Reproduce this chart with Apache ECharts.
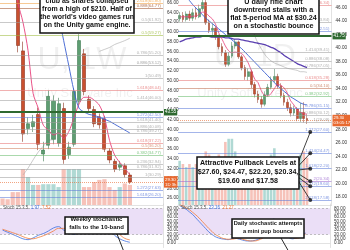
<!DOCTYPE html>
<html><head><meta charset="utf-8">
<script src="https://cdn.jsdelivr.net/npm/echarts@6/dist/echarts.min.js"></script>
<style>html,body{margin:0;padding:0;background:#fff;overflow:hidden}#c{width:350px;height:250px}</style>
</head><body><div id="c"></div>
<script>
// ---------- WEEKLY (left) ----------
const weekCats = ['2022-04-11','2022-04-18','2022-04-25','2022-05-02','2022-05-09','2022-05-16','2022-05-23','2022-05-30','2022-06-06','2022-06-13','2022-06-20','2022-06-27','2022-07-04','2022-07-11','2022-07-18','2022-07-25','2022-08-01','2022-08-08','2022-08-15','2022-08-22','2022-08-29','2022-09-05','2022-09-12','2022-09-19','2022-09-26','2022-10-03','2022-10-10','2022-10-17','2022-10-24','2022-10-31','2022-11-07','2022-11-14'];
// [open, close, low, high]
const weekOHLC = [
 [95,88,86,98],[88,82,80,90],[82,75,73,84],[74,57.2,55.8,76],[56.1,39.1,37.5,58],
 [40.2,41.2,39.0,42.5],[40.6,41.6,39.5,43.0],[43.1,37.0,35.8,44.5],[35.0,35.8,33.5,37.5],[36.8,46.8,36.0,48.0],
 [38.0,45.8,37.0,47.0],[37.2,45.3,36.5,46.5],[44.3,33.9,33.0,45.5],[34.9,36.4,34.0,37.5],[37.0,47.8,36.5,48.5],
 [45.8,58.2,45.0,59.5],[55.5,47.8,47.0,56.5],[46.2,44.3,43.5,47.0],[44.1,41.2,40.5,44.8],[42.6,41.0,40.2,43.3],
 [42.2,36.0,35.4,42.8],[35.6,33.8,33.1,36.2],[33.5,31.9,31.3,34.0],[32.3,32.9,31.6,33.6],[32.6,30.8,30.2,33.1],
 [30.7,29.3,28.9,31.2],null,null,null,null,null,null];
const weekVol = [9,8,18,18,50,39,28,28,29,29,29,25,50,50,50,50,25,25,32,35,36,25,21,25,30,28,null,null,null,null,null,null];
const weekMAfast = [null,78,72,66,62,56.2,47.4,44.4,40.9,39.9,38.9,39.3,38.2,39.6,42.3,45.2,46.6,46.6,46.0,45.0,42.5,37.8,34.8,33.3,32.1,30.7,null,null,null,null,null,null];
const weekMAslow = [null,null,null,null,null,92,86,80,75,71.5,67.4,63.3,58.2,53.1,48.0,44.4,43.6,43.1,42.9,42.5,42.1,41.7,41.1,40.5,39.9,39.3,null,null,null,null,null,null];
const weekBandUp = [null,null,null,null,null,null,null,null,null,null,null,null,null,null,null,null,null,null,null,56.0,56.4,56.8,57.4,57.8,58.2,58.7,null,null,null,null,null,null];
const weekBandLow = [null,null,null,null,30.7,32.1,33.8,35.4,36.6,37.8,37.9,null,null,null,null,null,null,null,null,null,null,null,null,null,null,null,null,null,null,null,null,null];
const weekStochK = [30,25,20,15,10,8,12,18,22,28,35,38,30,25,20,28,38,46,54,56,47,32,18,10,5,1.97,null,null,null,null,null,null];
const weekStochD = [32,28,24,20,15,11,10,13,17,22,28,34,34,30,25,24,28,37,46,52,52,45,32,20,11,7.52,null,null,null,null,null,null];
const weekTicks = [26,28,30,32,34,36,38,40,42,44,46,48,50,52,54,56,58,60,62,64,66];
const weekFibVals = [65.80,64.77,61.92,59.27,55.20,53.12,50.49,48.04,46.00,42.50,41.40,40.08,39.27,37.22,36.20,34.77,32.94,31.92,30.29,27.63,26.20];
const weekFibRatios = ['2.618','0.888','0.5','0.5','0.786','0.886','1','1.618','1.414','1.272','1.618','0.886','0.786','0.618','0.5','0.382','0.236','0.786','1','1.272','1.618'];
const weekFibColors = ['#f0a040','#a0522d','#9e9e9e','#9cba3c','#9e9e9e','#8d8d8d','#9e9e9e','#e57373','#9e9e9e','#5c7bd9','#9e9e9e','#9e9e9e','#9e9e9e','#e57373','#d08060','#66bb6a','#9e9e9e','#9e9e9e','#9e9e9e','#5c7bd9','#5c7bd9'];
const weekTagVals = [57.30,43.55,41.90,37.43,33.35,32.33,27.63,26.20];
const weekTagColors = ['#3d6fe0','#2e6930','#3d6fe0','#3d6fe0','#3d6fe0','#3d6fe0','#3d6fe0','#3d6fe0'];

// ---------- DAILY (right) ----------
const dayCats = ['09-12','09-13','09-14','09-15','09-16','09-19','09-20','09-21','09-22','09-23','09-26','09-27','09-28','09-29','09-30','10-03','10-04','10-05','10-06','10-07','10-10','10-11','10-12','10-13','10-14','10-17','10-18','10-19','10-20','10-21','10-24','10-25','10-26','10-27','10-28','10-31','11-01','11-02','11-03','11-04','11-07','11-08','11-09','11-10','11-11','11-14','11-15'];
const dayOHLC = [
 [44.3,44.8,43.9,45.3],[44.8,44.2,43.8,45.3],[44.2,45.0,43.9,45.4],[45.0,44.4,44.0,45.5],[44.4,45.2,44.0,45.8],
 [45.2,44.6,44.2,45.9],[44.6,45.8,44.4,46.4],[45.8,46.7,45.5,47.3],[46.7,43.7,43.4,47.3],[43.7,42.6,42.2,44.2],
 [42.6,42.9,41.9,43.6],[42.9,41.6,41.2,43.2],[41.6,40.2,39.8,42.0],[40.2,39.3,38.8,40.7],[39.3,37.6,37.2,39.7],
 [37.6,38.8,37.3,39.4],[38.8,40.3,38.5,40.9],[40.3,40.9,39.9,41.3],[40.9,38.7,38.4,41.1],[38.7,37.1,36.7,39.0],
 [37.1,35.8,35.3,37.5],[35.8,36.5,35.2,37.0],[36.5,34.6,34.1,36.8],[34.6,33.2,32.7,35.0],[33.2,32.4,31.9,33.7],
 [32.4,31.7,31.2,32.9],[31.7,33.1,31.4,33.6],[33.1,34.2,32.8,34.7],[34.2,35.3,33.9,35.8],[35.3,35.8,34.9,36.9],
 [35.8,34.4,34.0,36.2],[34.4,33.0,32.6,34.8],[33.0,32.0,31.5,33.4],[32.0,31.2,30.7,32.5],[31.2,30.4,29.9,31.8],
 [30.4,31.0,30.0,31.5],[31.0,29.6,29.2,31.3],[29.6,30.5,29.1,31.9],[30.5,29.6,29.0,32.0],[29.6,29.3,28.8,30.2],
 null,null,null,null,null,null,null];
const dayVol = [14,13,12,13,12,13,14,15,17,16,14,15,16,15,20,21,21,17,15,14,15,13,14,15,14,13,14,15,16,18,15,14,13,14,15,13,14,16,17,15,null,null,null,null,null,null,null];
const dayMA5 = [44.6,44.6,44.6,44.6,44.7,44.7,45.0,45.3,45.2,44.7,44.3,43.5,42.2,41.3,40.3,39.6,39.3,39.4,39.3,39.2,38.6,37.8,36.6,35.4,34.9,33.7,33.0,32.9,33.3,34.0,34.6,34.5,34.1,33.3,32.2,31.6,30.8,30.5,30.3,30.24,null,null,null,null,null,null,null];
const dayMA15 = [48.5,48.0,47.5,47.0,46.4,45.9,45.4,44.9,44.4,44.0,43.6,43.2,42.8,42.4,42.0,41.6,41.2,40.8,40.3,39.9,39.4,38.9,38.4,37.9,37.4,36.9,36.4,35.9,35.4,34.9,34.4,34.0,33.6,33.2,32.8,32.5,32.2,31.9,31.7,31.6,null,null,null,null,null,null,null];
const dayMA50 = [40.9,41.1,41.3,41.4,41.5,41.6,41.6,41.7,41.7,41.7,41.6,41.6,41.6,41.6,41.5,41.5,41.4,41.3,41.3,41.2,41.1,41.0,40.9,40.8,40.7,40.6,40.5,40.3,40.1,39.9,39.6,39.3,38.9,38.6,38.3,38.0,37.7,37.5,37.3,37.1,null,null,null,null,null,null,null];
const dayBandUp = [null,null,null,null,null,null,null,null,null,null,null,null,null,null,null,null,null,null,null,null,47.8,45.6,43.4,41.8,40.7,39.9,39.1,38.5,38.1,37.8,37.6,37.4,37.2,37.0,36.9,36.8,36.7,36.5,36.5,36.4,null,null,null,null,null,null,null];
const dayStochK = [86,82,78,72,66,58,50,42,34,26,20,15,12,10,9,8,10,12,10,8,6,5,5,6,8,12,20,32,45,55,52,40,28,18,12,10,12,15,20,23.16,null,null,null,null,null,null,null];
const dayStochD = [88,85,81,77,71,65,58,50,42,34,27,20,16,12,10,9,9,10,11,10,8,6,5,5,6,9,13,21,32,44,51,49,40,29,19,13,11,12,16,21.27,null,null,null,null,null,null,null];
const dayTicks = [18,20,22,24,26,28,30,32,34,36,38,40,42,44,46];
const dayFibVals = [46.34,43.84,42.51,39.41,38.08,37.05,35.28,34.10,32.92,31.15,30.12,29.09];
const dayFibRatios = ['0.618','0.5','1','1.414','0.886','0.786','0.618','0.5','0.382','0.786','0.886','1'];
const dayFibColors = ['#e57373','#9e9e9e','#5c7bd9','#9e9e9e','#9e9e9e','#9e9e9e','#e57373','#c07050','#66bb6a','#5c7bd9','#9e9e9e','#9e9e9e'];
const pullLevels = [27.60,24.47,22.20,20.34,19.60,17.58];
const pullRatios = ['1.272','1.414','1.618','2','2.272','2.618'];
const pullColors = ['#5c7bd9','#5c7bd9','#5c7bd9','#9c6ad0','#5c7bd9','#5c7bd9'];
const dayTagVals = [41.75,41.20,36.94,32.63,31.89];
const dayTagColors = ['#2e6930','#3d6fe0','#3d6fe0','#3d6fe0','#3d6fe0'];

// ---------- build ----------
const UP='#5e9e72', DOWN='#c9502f', VUP='rgba(80,170,160,0.45)', VDN='rgba(235,120,100,0.45)';
const FONT='"Liberation Sans", Arial, sans-serif';
const lastW = weekOHLC.filter(Boolean).slice(-1)[0][1];
const lastD = dayOHLC.filter(Boolean).slice(-1)[0][1];
const ohlcData = arr => arr.map(d => d ? d : ['-','-','-','-']);

function fibLines(vals, ratios, colors){
  return vals.map((v,i)=>({yAxis:v, lineStyle:{color:colors[i],width:0.7,type:'solid',opacity:0.8},
    label:{show:true,position:'insideEndTop',distance:[2,0.5],formatter:ratios[i]+'('+v.toFixed(2)+')',color:colors[i],fontSize:4.3,fontFamily:FONT}}));
}
function tagLines(vals, colors){
  return vals.map((v,i)=>({yAxis:v, lineStyle:{color:colors[i],width:(colors[i]==='#2e6930'?2:0.6),type:'solid',opacity:(colors[i]==='#2e6930'?1:0)},
    label:{show:true,position:'end',distance:1,formatter:v.toFixed(2),color:'#fff',backgroundColor:colors[i],padding:[1,1,0.5,1],fontSize:4.5,fontFamily:FONT}}));
}
function volData(ohlc, vol){
  return vol.map((v,i)=> v==null?'-':{value:v,itemStyle:{color: ohlc[i] && ohlc[i][1]>=ohlc[i][0]?VUP:VDN}});
}
const priceAxis = (g,min,max,ticks)=>({type:'value',gridIndex:g,position:'right',min,max,
  axisLine:{show:true,lineStyle:{color:'#cfcfcf',width:0.6}},axisTick:{show:false},splitLine:{show:false},
  axisLabel:{customValues:ticks,fontSize:4.6,color:'#333',margin:4,fontFamily:FONT,formatter:v=>Number(v).toFixed(2)}});
const stochAxis = g=>({type:'value',gridIndex:g,position:'right',min:-10,max:90,interval:10,
  axisLine:{show:true,lineStyle:{color:'#cfcfcf',width:0.6}},axisTick:{show:false},splitLine:{show:false},
  axisLabel:{fontSize:4.6,color:'#333',margin:4,fontFamily:FONT,formatter:v=>Number(v).toFixed(2)}});
const volAxis = (g,max)=>({type:'value',gridIndex:g,min:0,max,show:false,splitLine:{show:false}});
const catAxis = (g,data)=>({type:'category',gridIndex:g,data,boundaryGap:true,
  axisLine:{show:true,lineStyle:{color:'#cfcfcf',width:0.6}},axisTick:{show:false},axisLabel:{show:false},splitLine:{show:false}});

const stochBand = {silent:true,itemStyle:{color:'#ebdff7'},data:[[{yAxis:20},{yAxis:80}]]};
const stochLines = {silent:true,symbol:'none',label:{show:false},lineStyle:{color:'#9a9a9a',type:[2,2],width:0.6},data:[{yAxis:80},{yAxis:20}]};
const lineS = (xi,yi,data,color,w,z)=>({type:'line',xAxisIndex:xi,yAxisIndex:yi,data,symbol:'none',smooth:0.3,lineStyle:{color,width:w},clip:true,z:z||3,connectNulls:false});

const option = {
  animation:false,
  textStyle:{fontFamily:FONT},
  grid:[
    {left:0,top:0,width:163,height:205},
    {left:0,top:204,width:163,height:107},
    {left:178,top:0,width:155,height:205},
    {left:178,top:204,width:155,height:107}
  ],
  xAxis:[catAxis(0,weekCats),catAxis(1,weekCats),catAxis(2,dayCats),catAxis(3,dayCats)],
  yAxis:[
    priceAxis(0,24.57,66.41,weekTicks), volAxis(0,285), stochAxis(1),
    priceAxis(2,16.84,47.08,dayTicks), volAxis(2,65), stochAxis(3)
  ],
  series:[
    {type:'bar',xAxisIndex:0,yAxisIndex:1,data:volData(weekOHLC,weekVol),barWidth:4.2,z:1},
    {type:'candlestick',xAxisIndex:0,yAxisIndex:0,data:ohlcData(weekOHLC),barWidth:3.6,clip:true,
      itemStyle:{color:UP,color0:DOWN,borderColor:'#3f7a52',borderColor0:'#8c3420',borderWidth:0.6},
      markLine:{silent:true,symbol:'none',animation:false,data:fibLines(weekFibVals,weekFibRatios,weekFibColors).concat(tagLines(weekTagVals,weekTagColors)).concat([
        {yAxis:lastW,lineStyle:{color:'#e8692f',width:0.6,type:[1,1]},label:{show:true,position:'end',distance:1,formatter:lastW.toFixed(2)+'\n1D 3h',color:'#fff',backgroundColor:'#e8692f',padding:[1,1,0.5,1],fontSize:4.3,lineHeight:5,fontFamily:FONT}}
      ])}},
    lineS(0,0,weekBandUp,'#a8a8a8',0.6,2),
    lineS(0,0,weekBandLow,'#a8a8a8',0.6,2),
    lineS(0,0,weekMAfast,'#e8407a',0.9),
    lineS(0,0,weekMAslow,'#3a5fd0',0.9),
    {type:'line',xAxisIndex:1,yAxisIndex:2,data:weekStochK,symbol:'none',smooth:0.4,lineStyle:{color:'#3d6fe0',width:0.8},clip:true,markArea:stochBand,markLine:stochLines},
    {type:'line',xAxisIndex:1,yAxisIndex:2,data:weekStochD,symbol:'none',smooth:0.4,lineStyle:{color:'#f07a3a',width:0.8},clip:true},
    {type:'bar',xAxisIndex:2,yAxisIndex:4,data:volData(dayOHLC,dayVol),barWidth:2.6,z:1},
    {type:'candlestick',xAxisIndex:2,yAxisIndex:3,data:ohlcData(dayOHLC),barWidth:2.2,clip:true,
      itemStyle:{color:UP,color0:DOWN,borderColor:'#3f7a52',borderColor0:'#8c3420',borderWidth:0.5},
      markLine:{silent:true,symbol:'none',animation:false,data:fibLines(dayFibVals,dayFibRatios,dayFibColors)
        .concat(fibLines(pullLevels,pullRatios,pullColors))
        .concat(tagLines(dayTagVals,dayTagColors))
        .concat(pullLevels.map((v,i)=>({yAxis:v,lineStyle:{opacity:0},label:{show:true,position:'end',distance:1,formatter:v.toFixed(2),color:'#fff',backgroundColor:pullColors[i]==='#9c6ad0'?'#9c6ad0':'#3d6fe0',padding:[1,1,0.5,1],fontSize:4.5,fontFamily:FONT}})))
        .concat([{yAxis:lastD,lineStyle:{color:'#e8692f',width:0.6,type:[1,1]},label:{show:true,position:'end',distance:1,formatter:lastD.toFixed(2)+'\n03:05:17',color:'#fff',backgroundColor:'#e8692f',padding:[1,1,0.5,1],fontSize:4.3,lineHeight:5,fontFamily:FONT}}])}},
    lineS(2,3,dayBandUp,'#a8a8a8',0.6,2),
    lineS(2,3,dayMA50,'#5a3fb0',1.3),
    lineS(2,3,dayMA15,'#3a5fd0',0.9),
    lineS(2,3,dayMA5,'#e8407a',0.8),
    {type:'scatter',xAxisIndex:2,yAxisIndex:3,data:pullLevels.map(v=>[dayCats[40],v]),symbolSize:4,itemStyle:{color:'#111'},z:6},
    {type:'line',xAxisIndex:3,yAxisIndex:5,data:dayStochK,symbol:'none',smooth:0.4,lineStyle:{color:'#3d6fe0',width:0.8},clip:true,markArea:stochBand,markLine:stochLines},
    {type:'line',xAxisIndex:3,yAxisIndex:5,data:dayStochD,symbol:'none',smooth:0.4,lineStyle:{color:'#f07a3a',width:0.8},clip:true}
  ]
};

const chart = echarts.init(document.getElementById('c'),null,{renderer:'canvas'});
chart.setOption(option);

function box(x,y,w,h,lines,fs,lh){
  const cx=x+w/2, n=lines.length, y0=y+h-4-(n-1)*lh;
  return {type:'group',z:100,children:[
    {type:'rect',shape:{x,y,width:w,height:h},style:{fill:'#fff',stroke:'#111',lineWidth:1.5},z:100},
    ...lines.map((t,i)=>({type:'text',z:101,style:{text:t,x:cx,y:y0+i*lh,textAlign:'center',textVerticalAlign:'bottom',fontSize:fs,fontWeight:'bold',fontFamily:FONT,fill:'#111'}}))
  ]};
}
let pts = [];
try { pts = pullLevels.map(v=>chart.convertToPixel({xAxisIndex:2,yAxisIndex:3},[40,v])); } catch(e) { pts = []; }
const g = [
  {type:'text',z:0,silent:true,style:{text:'U, 1W',x:82,y:60,textAlign:'center',textVerticalAlign:'middle',fontSize:32,fill:'rgba(0,0,0,0.06)',fontFamily:FONT}},
  {type:'text',z:0,silent:true,style:{text:'Unity Software Inc',x:80,y:93,textAlign:'center',textVerticalAlign:'middle',fontSize:13,fill:'rgba(0,0,0,0.06)',fontFamily:FONT}},
  {type:'text',z:0,silent:true,style:{text:'U, 1D',x:255,y:57,textAlign:'center',textVerticalAlign:'middle',fontSize:32,fill:'rgba(0,0,0,0.06)',fontFamily:FONT}},
  {type:'text',z:0,silent:true,style:{text:'Unity Software Inc',x:250,y:93,textAlign:'center',textVerticalAlign:'middle',fontSize:13,fill:'rgba(0,0,0,0.06)',fontFamily:FONT}},
  {type:'text',z:50,style:{text:'Stoch 15 3 5  {b|1.97}  {o|7.52}',x:3,y:208,textVerticalAlign:'middle',fontSize:4.5,fill:'#555',fontFamily:FONT,rich:{b:{fill:'#3d6fe0',fontSize:4.5},o:{fill:'#f07a3a',fontSize:4.5}}}},
  {type:'text',z:50,style:{text:'Stoch 15 3 5  {b|23.16}  {o|21.27}',x:181,y:208,textVerticalAlign:'middle',fontSize:4.5,fill:'#555',fontFamily:FONT,rich:{b:{fill:'#3d6fe0',fontSize:4.5},o:{fill:'#f07a3a',fontSize:4.5}}}},
  ...pts.filter(p=>p && isFinite(p[0])).map((p,i)=>({type:'line',z:99,shape:{x1:298,y1:163+i*3.5,x2:p[0],y2:p[1]},style:{stroke:'#111',lineWidth:0.8}})),
  {type:'line',z:99,shape:{x1:117,y1:234,x2:124,y2:252},style:{stroke:'#111',lineWidth:0.9}},
  {type:'line',z:99,shape:{x1:281,y1:238,x2:289,y2:252},style:{stroke:'#111',lineWidth:0.9}},
  box(40,-14,94,47,['club as shares collapsed','from a high of $210. Half of',"the world's video games run",'on the Unity game engine.'],7,8),
  box(228,-14,91,48,['U daily rifle chart','downtrend stalls with a','flat 5-period MA at $30.24','on a stochastic bounce'],7.2,8),
  box(197,157,102,32,['Attractive Pullback Levels at','$27.60, $24.47, $22.20, $20.34,','$19.60 and $17.58'],7.1,9),
  box(65,217,63,17,['Weekly stochastic','falls to the 10-band'],6,8),
  box(232,219,72,19,['Daily stochastic attempts','a mini pup bounce'],5.7,8)
];
chart.setOption({graphic:g});
</script></body></html>
